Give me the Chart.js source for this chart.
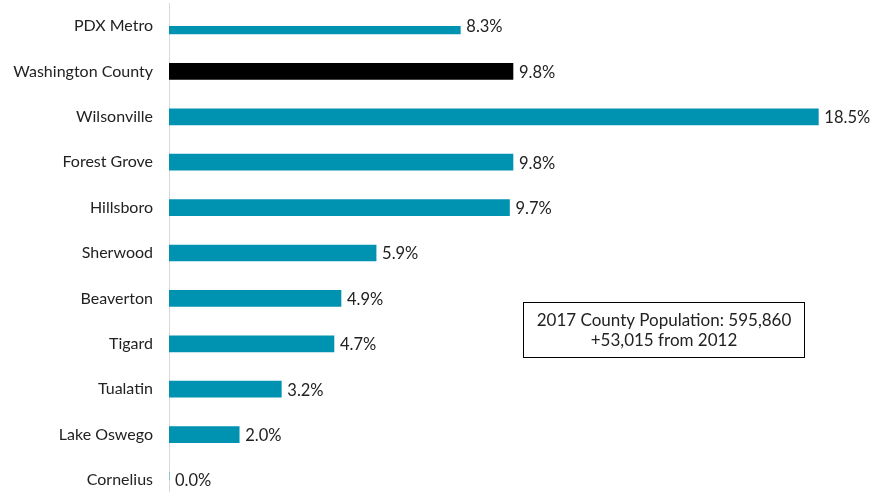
<!DOCTYPE html>
<html>
<head>
<meta charset="utf-8">
<script src="https://cdn.jsdelivr.net/npm/chart.js@4"></script>
<style>
  body { margin: 0; background: #fff; }
  #wrap { width: 875px; height: 492px; position: relative; }
</style>
</head>
<body>
<div id="wrap"><canvas id="myChart"></canvas></div>
<script>
const ciudades = ["PDX Metro", "Washington County", "Wilsonville", "Forest Grove", "Hillsboro",
  "Sherwood", "Beaverton", "Tigard", "Tualatin", "Lake Oswego", "Cornelius"];
const crecimiento = [8.3, 9.8, 18.5, 9.8, 9.7, 5.9, 4.9, 4.7, 3.2, 2.0, 0.0];
const colores = ciudades.map((c) => c === "Washington County" ? "#000000" : "#0092B1");
const notaLineas = ["2017 County Population: 595,860", "+53,015 from 2012"];

const FUENTE = "Lato, 'Open Sans', sans-serif";

// linea del eje, un poco mas larga que el area del grafico
const ejeVertical = {
  id: "ejeVertical",
  beforeDatasetsDraw(chart) {
    const ctx = chart.ctx;
    const x = Math.round(chart.scales.x.getPixelForValue(0)) + 0.5;
    ctx.save();
    ctx.strokeStyle = "#d9d9d9";
    ctx.lineWidth = 1;
    ctx.beginPath();
    ctx.moveTo(x, 3);
    ctx.lineTo(x, chart.height);
    ctx.stroke();
    ctx.restore();
  }
};

// etiquetas al final de cada barra
const etiquetas = {
  id: "etiquetas",
  afterDatasetsDraw(chart) {
    const ctx = chart.ctx;
    const meta = chart.getDatasetMeta(0);
    ctx.save();
    ctx.font = "16.5px " + FUENTE;
    ctx.fillStyle = "#222";
    ctx.textBaseline = "middle";
    meta.data.forEach((bar, i) => {
      ctx.fillText(crecimiento[i].toFixed(1) + "%", bar.x + 6, bar.y + 1);
    });
    ctx.restore();
  }
};

// cuadro con la nota
const nota = {
  id: "nota",
  afterDraw(chart) {
    const ctx = chart.ctx;
    ctx.save();
    ctx.strokeStyle = "#000";
    ctx.lineWidth = 1;
    ctx.strokeRect(523.5, 302.5, 281, 55);
    ctx.font = "17px " + FUENTE;
    ctx.fillStyle = "#222";
    ctx.textAlign = "center";
    ctx.textBaseline = "middle";
    ctx.fillText(notaLineas[0], 664, 321);
    ctx.fillText(notaLineas[1], 664, 341);
    ctx.restore();
  }
};

const config = {
  type: "bar",
  data: {
    labels: ciudades,
    datasets: [{
      data: crecimiento,
      backgroundColor: colores,
      barThickness: 16
    }]
  },
  options: {
    indexAxis: "y",
    responsive: true,
    maintainAspectRatio: false,
    animation: false,
    layout: { padding: { top: 26, bottom: 12, left: 0, right: 4 } },
    plugins: { legend: { display: false }, tooltip: { enabled: false } },
    scales: {
      x: {
        min: 0,
        max: 20,
        display: false
      },
      y: {
        offset: false,
        grid: { display: false },
        border: { display: false },
        ticks: { color: "#222", font: { family: FUENTE, size: 16 }, padding: 8 },
        afterFit(scale) {
          scale.width = 169;
          scale.paddingTop = 0;
          scale.paddingBottom = 0;
        }
      }
    }
  },
  plugins: [ejeVertical, etiquetas, nota]
};

new Chart(document.getElementById("myChart"), config);
</script>
</body>
</html>
